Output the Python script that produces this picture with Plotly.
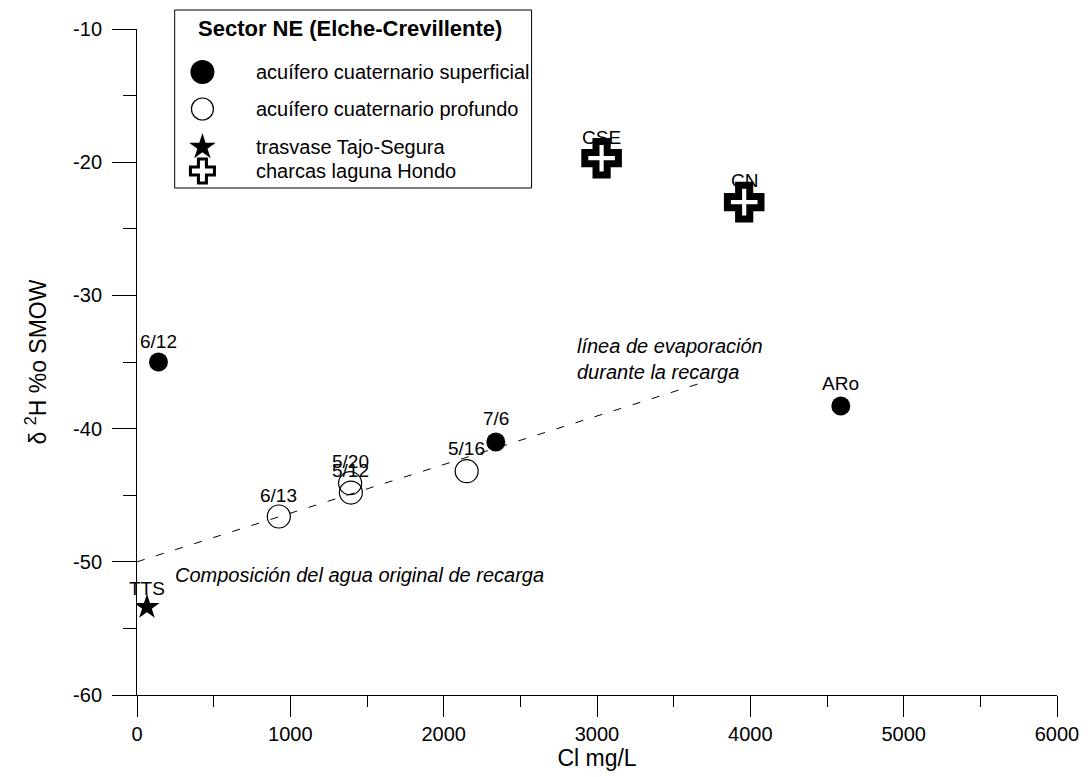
import plotly.graph_objects as go

# ---- data ----
sup_x = [140, 2340, 4590]
sup_y = [-35.0, -41.0, -38.3]
sup_lbl = ["6/12", "7/6", "ARo"]

prof_x = [925, 1390, 1395, 2150]
prof_y = [-46.6, -44.1, -44.8, -43.2]
prof_lbl = ["6/13", "5/20", "5/12", "5/16"]

tts_x = [65]
tts_y = [-53.4]
tts_lbl = ["TTS"]

ch_x = [3030, 3960]
ch_y = [-19.7, -23.0]
ch_lbl = ["CSE", "CN"]

evap_x = [0, 3700]
evap_y = [-50.0, -36.5]

x_ticks = [0, 1000, 2000, 3000, 4000, 5000, 6000]
y_ticks = [-60, -50, -40, -30, -20, -10]
y_ticktext = ["-60", "-50", "-40", "-30", "-20", "-10"]

legend_title = "Sector NE (Elche-Crevillente)"
legend_names = ["acuífero cuaternario superficial", "acuífero cuaternario profundo",
                "trasvase Tajo-Segura", "charcas laguna Hondo"]

FONT = "Arial, Liberation Sans, sans-serif"

# plot area in pixels
L, R, T, B = 137, 1065, 29, 695


def px(xpix):
    return (xpix - L) / (R - L)


def py(ypix):
    return (B - ypix) / (B - T)


fig = go.Figure()

fig.add_trace(go.Scatter(x=evap_x, y=evap_y, mode="lines",
                         line=dict(color="black", width=1, dash="8px,12px"),
                         showlegend=False, hoverinfo="skip"))

m_sup = dict(symbol="circle", size=19, color="black", line=dict(color="black", width=0))
m_prof = dict(symbol="circle", size=23, color="rgba(255,255,255,0)", line=dict(color="black", width=1.2))
m_tts = dict(symbol="star", size=19, color="black", line=dict(color="black", width=0))
m_ch = dict(symbol="cross", size=28, color="white", line=dict(color="black", width=7))

fig.add_trace(go.Scatter(x=sup_x, y=sup_y, mode="markers", name=legend_names[0],
                         marker=m_sup, showlegend=False))
fig.add_trace(go.Scatter(x=prof_x, y=prof_y, mode="markers", name=legend_names[1],
                         marker=m_prof, showlegend=False))
fig.add_trace(go.Scatter(x=tts_x, y=tts_y, mode="markers", name=legend_names[2],
                         marker=m_tts, showlegend=False))
fig.add_trace(go.Scatter(x=ch_x, y=ch_y, mode="markers", name=legend_names[3],
                         marker=m_ch, showlegend=False))

# point labels
def add_labels(xs, ys, labels, shifts):
    for x, y, t, s in zip(xs, ys, labels, shifts):
        fig.add_annotation(x=x, y=y, text=t, showarrow=False, yshift=s,
                           font=dict(family=FONT, size=19, color="black"))

add_labels(sup_x, sup_y, sup_lbl, [21, 23, 22])
add_labels(prof_x, prof_y, prof_lbl, [21, 22, 22, 23])
add_labels(tts_x, tts_y, tts_lbl, [19])
add_labels(ch_x, ch_y, ch_lbl, [21, 22])

fig.add_annotation(x=2856, y=-34.8, text="<i>línea de evaporación<br>durante la recarga</i>",
                   showarrow=False, xanchor="left", align="left",
                   font=dict(family=FONT, size=20, color="black"))
fig.add_annotation(x=233, y=-51.0, text="<i>Composición del agua original de recarga</i>",
                   showarrow=False, xanchor="left",
                   font=dict(family=FONT, size=20, color="black"))

# ---- legend (box and texts in paper coords, markers in an overlay pixel frame) ----
leg_box = (175, 535, 10, 188)
leg_mark_x = 203
leg_text_x = 255
leg_rows_y = [72, 109, 147, 171]
leg_title_pos = (197, 28)
leg_markers = [dict(m_sup, size=24), dict(m_prof, size=22), dict(m_tts, size=20),
               dict(m_ch, size=20, line=dict(color="black", width=3))]

fig.add_shape(type="rect", xref="paper", yref="paper", layer="below",
              line=dict(color="black", width=1), fillcolor="white",
              x0=px(leg_box[0]), x1=px(leg_box[1]), y0=py(leg_box[3]), y1=py(leg_box[2]))
fig.add_annotation(xref="paper", yref="paper", x=px(leg_title_pos[0]), y=py(leg_title_pos[1]),
                   text="<b>" + legend_title + "</b>", showarrow=False,
                   xanchor="left", yanchor="middle",
                   font=dict(family=FONT, size=22, color="black"))
for name, ry, mk in zip(legend_names, leg_rows_y, leg_markers):
    fig.add_trace(go.Scatter(x=[leg_mark_x], y=[ry], xaxis="x2", yaxis="y2", mode="markers",
                             marker=mk, showlegend=False, hoverinfo="skip"))
    fig.add_annotation(xref="paper", yref="paper", x=px(leg_text_x), y=py(ry), text=name,
                       showarrow=False, xanchor="left", yanchor="middle",
                       font=dict(family=FONT, size=20, color="black"))

axis_common = dict(showgrid=False, zeroline=False, showline=True, linecolor="black",
                   linewidth=1, ticks="outside", tickcolor="black", tickwidth=1,
                   tickfont=dict(family=FONT, size=20, color="black"))

fig.update_layout(
    xaxis=dict(range=[0, 6000], tickvals=x_ticks, ticklen=21,
               minor=dict(dtick=500, ticklen=11, ticks="outside", tickcolor="black", showgrid=False),
               title=dict(text="Cl mg/L", font=dict(family=FONT, size=23, color="black"), standoff=2),
               **axis_common),
    yaxis=dict(range=[-60, -10], tickvals=y_ticks, ticktext=y_ticktext, ticklen=24,
               ticklabelstandoff=6,
               minor=dict(dtick=5, ticklen=13, ticks="outside", tickcolor="black", showgrid=False),
               title=dict(text="δ <sup>2</sup>H %o SMOW", font=dict(family=FONT, size=23, color="black"), standoff=20),
               **axis_common),
    xaxis2=dict(overlaying="x", range=[L, R], visible=False, fixedrange=True),
    yaxis2=dict(overlaying="y", range=[B, T], visible=False, fixedrange=True),
    width=1091, height=777,
    margin=dict(l=L, r=1091 - R, t=T, b=777 - B),
    plot_bgcolor="white", paper_bgcolor="white",
    font=dict(family=FONT, color="black"),
    showlegend=False,
)

fig.write_html("out.html")
